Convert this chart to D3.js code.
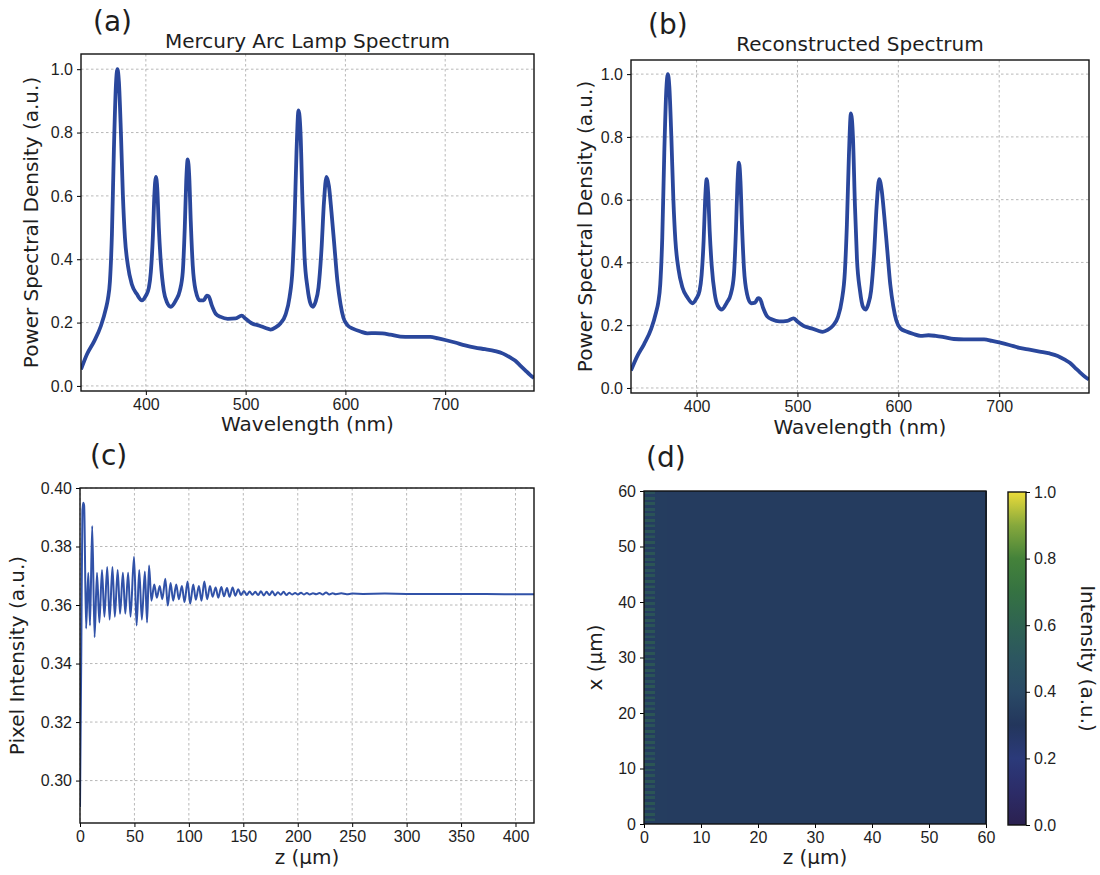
<!DOCTYPE html>
<meta charset="utf-8">
<style>
body{margin:0;background:#fff;}
svg{font-family:"DejaVu Sans",sans-serif;}
.axis line{stroke:#000;stroke-width:1;}
.axis text{font-size:16px;fill:#1e1e1e;}
.grid line{stroke:#a6a6a6;stroke-width:0.8;stroke-dasharray:2.5,2.5;}
.frame{fill:none;stroke:#111;stroke-width:1.4;}
.lbl{font-size:20px;fill:#1e1e1e;}
.tag{font-size:28px;fill:#1e1e1e;}
</style>
<body>
<div id="container"></div>
<script src="https://cdn.jsdelivr.net/npm/d3@7"></script>
<script>

var width = 1100,
    height = 875;

// (a) / (b) spectra, wavelength in nm
var wavelength = [335,341,348,355,360,362,364,366,368,370,371.5,373,375,377,379,382,386,391,396,400,
  403,405,407,408.5,410,411.5,413,415,418,421,425,430,434,437,439,440.5,442,443.5,445,447,
  450,454,458,461,463,466,470,475,482,490,496,500,506,514,520,525,530,535,540,544,
  547,549,551,553,555,557,559,562,565,567.5,570,573,576,578.5,581,583.5,586,589,592,595,
  598,602,608,615,622,630,637,645,655,665,675,685,693,700,710,720,730,740,750,758,
  765,770,775,780,785,789];
var psdLamp = [0.052,0.10,0.14,0.19,0.245,0.275,0.33,0.48,0.75,0.95,1.0,0.96,0.80,0.60,0.47,0.38,0.32,0.29,0.27,0.285,
  0.31,0.36,0.47,0.60,0.66,0.62,0.50,0.39,0.30,0.265,0.25,0.27,0.30,0.36,0.50,0.65,0.715,0.66,0.52,0.38,
  0.30,0.27,0.27,0.285,0.283,0.255,0.228,0.218,0.212,0.213,0.222,0.212,0.198,0.19,0.183,0.178,0.185,0.198,0.225,0.28,
  0.37,0.52,0.74,0.87,0.80,0.58,0.41,0.31,0.26,0.25,0.265,0.31,0.43,0.58,0.66,0.63,0.55,0.44,0.33,0.26,
  0.215,0.192,0.18,0.172,0.166,0.167,0.166,0.162,0.156,0.155,0.155,0.155,0.15,0.145,0.137,0.128,0.121,0.116,0.11,0.102,
  0.09,0.08,0.065,0.05,0.035,0.025];
var psdRecon = [0.056,0.10,0.14,0.188,0.243,0.272,0.33,0.48,0.75,0.95,1.0,0.96,0.80,0.60,0.47,0.38,0.32,0.288,0.27,0.286,
  0.31,0.36,0.47,0.60,0.665,0.62,0.50,0.39,0.30,0.262,0.25,0.272,0.30,0.36,0.50,0.65,0.718,0.66,0.52,0.38,
  0.30,0.27,0.272,0.286,0.283,0.255,0.228,0.218,0.212,0.214,0.222,0.212,0.198,0.19,0.183,0.179,0.185,0.198,0.225,0.28,
  0.37,0.52,0.74,0.875,0.80,0.58,0.41,0.31,0.258,0.25,0.265,0.31,0.43,0.58,0.665,0.63,0.55,0.44,0.33,0.26,
  0.215,0.19,0.18,0.172,0.166,0.168,0.166,0.162,0.156,0.155,0.155,0.155,0.15,0.145,0.137,0.128,0.122,0.116,0.11,0.102,
  0.09,0.08,0.065,0.05,0.036,0.027];

// (c) pixel intensity along z (um)
var zProfile = [0,1.2,2.2,3.0,3.8,5.6,7.6,9.2,11.2,13.4,15.6,17.8,20.2,22.4,25.0,27.2,29.8,32.0,34.6,36.8,
  39.4,41.6,44.2,46.4,49.6,52.0,54.4,56.8,59.6,61.6,63.4,65.6,68.2,70.6,73.2,75.6,78.4,80.6,83.2,85.6,
  88.4,90.8,93.6,96.0,98.8,101.2,104.0,106.4,109.2,111.6,114.2,116.8,119.4,121.8,124.6,127.0,129.8,132.2,135.0,137.4,
  140.2,142.6,145.4,147.8,150.6,153.2,155.8,158.4,161.0,163.6,166.2,168.8,171.4,174.0,176.6,179.2,181.8,184.4,187.0,189.6,
  192.2,194.8,197.6,200.2,203.0,205.6,208.4,211.0,214.0,217.0,220.0,223.0,226.0,229.0,232.0,235.0,240.0,245.0,250.0,260.0,
  280.0,300.0,330.0,360.0,390.0,417.0];
var pixelIntensity = [0.291,0.345,0.392,0.395,0.394,0.352,0.371,0.353,0.387,0.349,0.371,0.354,0.372,0.356,0.373,0.355,0.373,0.356,0.372,0.357,
  0.371,0.357,0.371,0.356,0.3765,0.353,0.372,0.355,0.3715,0.354,0.3735,0.3615,0.367,0.3625,0.3665,0.362,0.369,0.3598,0.3675,0.3615,
  0.367,0.362,0.3665,0.361,0.368,0.3605,0.367,0.3618,0.3665,0.3615,0.368,0.362,0.3665,0.3628,0.366,0.3625,0.3662,0.363,0.3658,0.3628,
  0.366,0.3632,0.3654,0.3634,0.3648,0.3634,0.3646,0.3635,0.3645,0.3634,0.3647,0.3633,0.3645,0.3634,0.3647,0.3633,0.3644,0.3635,0.3645,0.3634,
  0.3642,0.3636,0.3641,0.3636,0.3642,0.3636,0.3641,0.3636,0.364,0.3637,0.3641,0.3636,0.3643,0.3636,0.364,0.3637,0.364,0.3637,0.3639,0.3638,
  0.3639,0.3638,0.3638,0.3638,0.3637,0.3637];

// (d) intensity map: column means over z bins, plus the fringe at the z = 0 edge
var dZEdges = [0,2,4,6,8,10,12,14,16,18,20,22,24,26,28,30,32,34,36,38,40,42,44,46,48,50,52,54,56,58,60];
var dColumnMean = [0.335,0.333,0.331,0.33,0.331,0.33,0.33,0.33,0.33,0.33,0.33,0.33,0.329,0.329,0.33,
  0.33,0.33,0.33,0.33,0.33,0.33,0.33,0.33,0.33,0.33,0.33,0.33,0.33,0.33,0.33];
var edgeFringe = [0.34,0.60,0.33,0.62,0.35,0.58,0.34,0.63,0.33,0.60,0.35,0.61,0.34,0.57,0.33,0.62,0.34,0.60,0.35,0.59,
  0.33,0.63,0.34,0.60,0.35,0.58,0.33,0.62,0.34,0.61,0.35,0.60,0.33,0.63,0.34,0.58,0.35,0.61,0.34,0.62,
  0.33,0.60,0.34,0.59,0.35,0.62,0.33,0.61,0.34,0.63,0.35,0.58,0.34,0.60,0.33,0.62,0.34,0.61,0.35,0.59,
  0.33,0.62,0.34,0.60,0.35,0.63,0.33,0.58,0.34,0.61,0.35,0.60,0.34,0.62,0.33,0.59,0.34,0.61,0.35,0.60,
  0.33,0.62,0.34,0.58,0.35,0.61,0.33,0.63,0.34,0.60,0.35,0.59,0.34,0.62,0.33,0.60,0.34,0.61,0.35,0.58,
  0.33,0.62,0.34,0.60,0.35,0.61,0.33,0.59,0.34,0.62,0.35,0.60,0.34,0.58,0.33,0.61,0.34,0.60,0.35,0.57];
var edgeWidth = 2, edgeRow = 0.5;

// colour map as it looks in the figure
var cmapLevels = [0,0.1,0.2,0.3,0.4,0.5,0.6,0.7,0.8,0.9,1.0];
var cmapColors = ["#2b2150","#2c2c68","#2b3a7a","#23365c","#2a4a66","#2c5660","#2f6352","#357242","#44823a","#86a83c","#ecdc3a"];

var spectrumTicksX = [400,500,600,700],
    spectrumTicksY = [0,0.2,0.4,0.6,0.8,1.0],
    profileTicksX = [0,50,100,150,200,250,300,350,400],
    profileTicksY = [0.30,0.32,0.34,0.36,0.38,0.40],
    mapTicks = [0,10,20,30,40,50,60],
    cbarTicks = [0,0.2,0.4,0.6,0.8,1.0];

var svg = d3.select("#container").append("svg")
    .attr("width", width)
    .attr("height", height);

var clipId = 0;

function linePanel(box, xDom, yDom, xt, yt, yFmt, xs, ys, lw, color) {
  var x = d3.scaleLinear().domain(xDom).range([box.x0, box.x1]);
  var y = d3.scaleLinear().domain(yDom).range([box.y1, box.y0]);
  var g = svg.append("g");

  var grid = g.append("g").attr("class", "grid");
  grid.selectAll(".gx").data(xt).enter().append("line")
      .attr("x1", d => x(d)).attr("x2", d => x(d))
      .attr("y1", box.y0).attr("y2", box.y1);
  grid.selectAll(".gy").data(yt).enter().append("line")
      .attr("y1", d => y(d)).attr("y2", d => y(d))
      .attr("x1", box.x0).attr("x2", box.x1);

  var id = "clip" + (clipId++);
  g.append("clipPath").attr("id", id).append("rect")
      .attr("x", box.x0).attr("y", box.y0)
      .attr("width", box.x1 - box.x0).attr("height", box.y1 - box.y0);

  var line = d3.line()
      .x((d, i) => x(xs[i]))
      .y(d => y(d))
      .curve(d3.curveMonotoneX);
  g.append("path")
      .attr("clip-path", "url(#" + id + ")")
      .attr("d", line(ys))
      .style("fill", "none")
      .style("stroke", color)
      .style("stroke-width", lw)
      .style("stroke-linejoin", "round");

  addAxes(g, box, x, y, xt, yt, d3.format("d"), yFmt);
  return g;
}

function addAxes(g, box, x, y, xt, yt, xFmt, yFmt) {
  var ax = g.append("g").attr("class", "axis")
      .attr("transform", "translate(0," + box.y1 + ")")
      .call(d3.axisBottom(x).tickValues(xt).tickFormat(xFmt).tickSize(4).tickSizeOuter(0).tickPadding(4));
  ax.select(".domain").remove();
  var ay = g.append("g").attr("class", "axis")
      .attr("transform", "translate(" + box.x0 + ",0)")
      .call(d3.axisLeft(y).tickValues(yt).tickFormat(yFmt).tickSize(4).tickSizeOuter(0).tickPadding(4));
  ay.select(".domain").remove();
  g.append("rect").attr("class", "frame")
      .attr("x", box.x0).attr("y", box.y0)
      .attr("width", box.x1 - box.x0).attr("height", box.y1 - box.y0);
}

function text(str, x, y, cls, anchor, rot) {
  var t = svg.append("text").attr("class", cls)
      .attr("text-anchor", anchor || "start")
      .text(str);
  if (rot) t.attr("transform", "translate(" + x + "," + y + ") rotate(" + rot + ")");
  else t.attr("x", x).attr("y", y);
  return t;
}

var blue = "#2a479c";

// (a)
var boxA = {x0: 81, x1: 534, y0: 54, y1: 391};
linePanel(boxA, [335, 789], [-0.016, 1.048], spectrumTicksX, spectrumTicksY, d3.format(".1f"),
    wavelength, psdLamp, 3.8, blue);
text("(a)", 93, 31, "tag");
text("Mercury Arc Lamp Spectrum", (boxA.x0 + boxA.x1) / 2, 48, "lbl", "middle");
text("Wavelength (nm)", (boxA.x0 + boxA.x1) / 2, 431, "lbl", "middle");
text("Power Spectral Density (a.u.)", 38, (boxA.y0 + boxA.y1) / 2, "lbl", "middle", -90);

// (b)
var boxB = {x0: 631, x1: 1089, y0: 60, y1: 393};
linePanel(boxB, [335, 789], [-0.016, 1.045], spectrumTicksX, spectrumTicksY, d3.format(".1f"),
    wavelength, psdRecon, 3.8, blue);
text("(b)", 648, 34, "tag");
text("Reconstructed Spectrum", (boxB.x0 + boxB.x1) / 2, 51, "lbl", "middle");
text("Wavelength (nm)", (boxB.x0 + boxB.x1) / 2, 434, "lbl", "middle");
text("Power Spectral Density (a.u.)", 592, (boxB.y0 + boxB.y1) / 2, "lbl", "middle", -90);

// (c)
var boxC = {x0: 80, x1: 534, y0: 488, y1: 823};
linePanel(boxC, [0, 417], [0.2855, 0.40], profileTicksX, profileTicksY, d3.format(".2f"),
    zProfile, pixelIntensity, 2, "#3152a8");
text("(c)", 90, 465, "tag");
text("z (\u00b5m)", (boxC.x0 + boxC.x1) / 2, 864, "lbl", "middle");
text("Pixel Intensity (a.u.)", 24, (boxC.y0 + boxC.y1) / 2, "lbl", "middle", -90);

// (d)
var boxD = {x0: 644, x1: 986, y0: 491, y1: 824};
var xd = d3.scaleLinear().domain([0, 60]).range([boxD.x0, boxD.x1]);
var yd = d3.scaleLinear().domain([0, 60]).range([boxD.y1, boxD.y0]);
var cmap = d3.scaleLinear().domain(cmapLevels).range(cmapColors).interpolate(d3.interpolateRgb).clamp(true);

var gd = svg.append("g").attr("shape-rendering", "crispEdges");
gd.selectAll(".col").data(dColumnMean).enter().append("rect")
    .attr("x", (d, i) => xd(dZEdges[i]))
    .attr("width", (d, i) => xd(dZEdges[i + 1]) - xd(dZEdges[i]) + 1)
    .attr("y", yd(60))
    .attr("height", yd(0) - yd(60))
    .attr("fill", d => cmap(d));
gd.selectAll(".fr").data(edgeFringe).enter().append("rect")
    .attr("x", xd(0))
    .attr("width", xd(edgeWidth) - xd(0))
    .attr("y", (d, i) => yd((i + 1) * edgeRow))
    .attr("height", yd(0) - yd(edgeRow) + 0.2)
    .attr("fill", d => cmap(d))
    .attr("opacity", 0.6);
addAxes(svg.append("g"), boxD, xd, yd, mapTicks, mapTicks, d3.format("d"), d3.format("d"));
text("(d)", 646, 467, "tag");
text("z (\u00b5m)", (boxD.x0 + boxD.x1) / 2, 864, "lbl", "middle");
text("x (\u00b5m)", 602, (boxD.y0 + boxD.y1) / 2, "lbl", "middle", -90);

// colour bar
var cb = {x0: 1008, x1: 1026, y0: 492, y1: 825};
var yc = d3.scaleLinear().domain([0, 1]).range([cb.y1, cb.y0]);
var grad = svg.append("defs").append("linearGradient")
    .attr("id", "cbgrad").attr("x1", 0).attr("y1", 1).attr("x2", 0).attr("y2", 0);
grad.selectAll("stop").data(cmapLevels).enter().append("stop")
    .attr("offset", d => d)
    .attr("stop-color", (d, i) => cmapColors[i]);
svg.append("rect")
    .attr("x", cb.x0).attr("y", cb.y0)
    .attr("width", cb.x1 - cb.x0).attr("height", cb.y1 - cb.y0)
    .attr("fill", "url(#cbgrad)");
svg.append("rect").attr("class", "frame")
    .attr("x", cb.x0).attr("y", cb.y0)
    .attr("width", cb.x1 - cb.x0).attr("height", cb.y1 - cb.y0);
var ac = svg.append("g").attr("class", "axis")
    .attr("transform", "translate(" + cb.x1 + ",0)")
    .call(d3.axisRight(yc).tickValues(cbarTicks).tickFormat(d3.format(".1f")).tickSize(4).tickSizeOuter(0).tickPadding(4));
ac.select(".domain").remove();
text("Intensity (a.u.)", 1081, (cb.y0 + cb.y1) / 2, "lbl", "middle", 90);

</script>
</body>
</html>
